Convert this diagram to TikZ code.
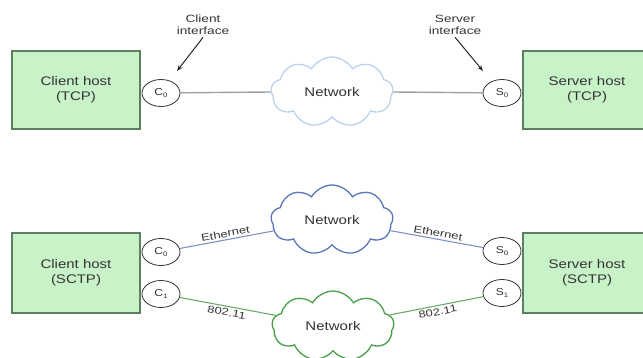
\documentclass[tikz,border=0pt]{standalone}
\usepackage{fontspec}
\setmainfont{Liberation Sans}[FakeStretch=1.2]
\newfontfamily\lblfont{Liberation Sans}[FakeStretch=1.3]
\usetikzlibrary{shapes.geometric,shapes.symbols,arrows.meta}
\definecolor{boxfill}{HTML}{C8F2C8}
\definecolor{boxline}{HTML}{5F8060}
\definecolor{cloudlt}{HTML}{BCD2EC}
\definecolor{cloudbl}{HTML}{5A76B6}
\definecolor{cloudgr}{HTML}{48A048}
\definecolor{linebl}{HTML}{8090C8}
\definecolor{linegr}{HTML}{6AAA6A}
\definecolor{txt}{HTML}{333333}
\tikzset{
  hostbox/.style={draw=boxline, line width=1.2pt, fill=boxfill, minimum width=128pt, minimum height=78pt, align=center, font=\fontsize{12.5}{15}\selectfont, text=txt},
  iface/.style={ellipse, draw=black!80, line width=0.8pt, fill=white, minimum width=38pt, minimum height=27pt, inner sep=0pt, font=\fontsize{10}{12}\selectfont, text=txt},
  net/.style={cloud, cloud puffs=9, cloud puff arc=120, aspect=1.75, line width=1.3pt, fill=white, minimum width=122pt, minimum height=70pt, inner sep=0pt, font=\fontsize{12.5}{15}\selectfont, text=txt},
  lbl/.style={align=center, font=\lblfont\fontsize{10.5}{12}\selectfont, text=txt},
  linklbl/.style={font=\lblfont\fontsize{10}{12}\selectfont, text=txt, sloped, inner sep=2pt},
  arr/.style={-{Stealth[length=6pt,width=4.5pt]}, line width=1pt, black!85}
}
\newcommand{\ifc}[2]{#1\raisebox{-2.5pt}{\fontsize{6.5}{7}\selectfont #2}}
\begin{document}
\begin{tikzpicture}[x=1pt,y=-1pt]
\useasboundingbox (0,0) rectangle (643,358);
\clip (0,0) rectangle (643,358);
% ---------- top row (TCP) ----------
\node[hostbox] (cht) at (76,90) {Client host\\(TCP)};
\node[hostbox] (sht) at (587,90) {Server host\\(TCP)};
\node[iface] (c0t) at (161,93) {\ifc{C}{0}};
\node[iface] (s0t) at (502,93) {\ifc{S}{0}};
\node[net, draw=cloudlt] (nett) at (332,92) {Network};
\draw[gray!75, line width=1.4pt] (c0t) -- (nett.west);
\draw[gray!75, line width=1.4pt] (nett.east) -- (s0t);
\node[lbl] (cil) at (203,25) {Client\\interface};
\node[lbl] (sil) at (455,25) {Server\\interface};
\coordinate (cia) at (177,71);
\coordinate (sia) at (483,71);
\draw[arr] (cil.south) ++(0,-1) -- (cia);
\draw[arr] (sil.south) ++(0,-1) -- (sia);
% ---------- bottom row (SCTP) ----------
\node[hostbox, minimum height=80pt] (chb) at (76,273) {Client host\\(SCTP)};
\node[hostbox, minimum height=80pt] (shb) at (587,273) {Server host\\(SCTP)};
\node[iface] (c0b) at (161,252) {\ifc{C}{0}};
\node[iface] (c1b) at (161,294) {\ifc{C}{1}};
\node[iface] (s0b) at (502,251) {\ifc{S}{0}};
\node[iface] (s1b) at (502,293) {\ifc{S}{1}};
\node[net, draw=cloudbl] (netb) at (332,220) {Network};
\node[net, draw=cloudgr] (netg) at (333,326) {Network};
\draw[linebl, line width=1.1pt] (c0b) -- node[linklbl, above] {Ethernet} (netb);
\draw[linebl, line width=1.1pt] (netb) -- node[linklbl, above] {Ethernet} (s0b);
\draw[linegr, line width=1.1pt] (c1b) -- node[linklbl, below] {802.11} (netg);
\draw[linegr, line width=1.1pt] (netg) -- node[linklbl, below] {802.11} (s1b);
\end{tikzpicture}
\end{document}
